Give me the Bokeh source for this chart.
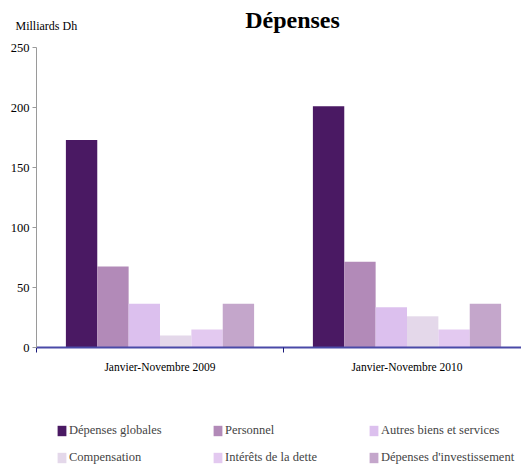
from bokeh.plotting import figure
from bokeh.models import Range1d, FixedTicker, Legend, LegendItem, Label, ColumnDataSource
from bokeh.embed import file_html
from bokeh.resources import INLINE

periods = ["Janvier-Novembre 2009", "Janvier-Novembre 2010"]
series = ["Dépenses globales", "Personnel", "Autres biens et services",
          "Compensation", "Intérêts de la dette", "Dépenses d'investissement"]
depenses_globales = [173, 201]
personnel = [67.5, 71.5]
autres_biens = [36.5, 33.5]
compensation = [10, 26]
interets = [15, 15]
investissement = [36.5, 36.5]
values = [depenses_globales, personnel, autres_biens, compensation, interets, investissement]
colors = ["#4a1963", "#b28ab8", "#dcc0ee", "#e4d8ea", "#e3c9f0", "#c4a6cb"]
y_ticks = [0, 50, 100, 150, 200, 250]

FONT = "Liberation Serif"
W, H = 521, 466
X0, Y0 = 36, 347          # page position of data origin
PX_X, PX_Y = 247, 1.2     # pixels per data unit

p = figure(width=W, height=H, output_backend="svg", toolbar_location=None,
           x_range=Range1d(-X0 / PX_X, (W - X0) / PX_X),
           y_range=Range1d(-(H - Y0) / PX_Y, Y0 / PX_Y),
           min_border=0, min_border_left=0, min_border_right=0,
           min_border_top=0, min_border_bottom=0)
p.outline_line_color = None
p.grid.visible = False

bw = 0.127
items = []
for k, (name, vals, col) in enumerate(zip(series, values, colors)):
    src = ColumnDataSource(dict(x=[i + 0.5 + (k - 2.5) * bw for i in range(len(periods))], top=vals))
    r = p.vbar(x="x", top="top", width=bw, source=src, fill_color=col, line_color=None)
    items.append(LegendItem(label=name, renderers=[r]))

# y axis
ya = p.yaxis[0]
ya.fixed_location = 0
ya.bounds = (0, 250)
ya.ticker = FixedTicker(ticks=y_ticks)
ya.axis_line_color = "#9a9a9a"
ya.major_tick_line_color = "#9a9a9a"
ya.major_tick_out = 4
ya.major_tick_in = 0
ya.minor_tick_line_color = None
ya.major_label_text_font = FONT
ya.major_label_text_font_size = "12.5px"
ya.major_label_text_color = "black"
ya.major_label_standoff = 3

# x axis
xa = p.xaxis[0]
xa.fixed_location = 0
xa.bounds = (0, (W - X0) / PX_X)
xa.ticker = FixedTicker(ticks=[0.5, 1.5], minor_ticks=[0, 1, 2])
xa.major_label_overrides = {0.5: periods[0], 1.5: periods[1]}
xa.axis_line_color = "#4a4aa8"
xa.axis_line_width = 2
xa.major_tick_line_color = None
xa.minor_tick_line_color = "#1a1a7a"
xa.minor_tick_out = 5
xa.minor_tick_in = 0
xa.major_label_text_font = FONT
xa.major_label_text_font_size = "11.5px"
xa.major_label_text_color = "black"
xa.major_label_standoff = 7

legend = Legend(items=items, orientation="horizontal", ncols=3, location=(56, 0),
                glyph_width=11, glyph_height=13, label_standoff=2, label_width=133,
                label_height=17, spacing=10, padding=0, margin=0,
                border_line_alpha=0, background_fill_alpha=0,
                label_text_font=FONT, label_text_font_size="12.5px")
p.add_layout(legend)

p.add_layout(Label(x=(292 - X0) / PX_X, y=(Y0 - 19) / PX_Y, text="Dépenses", text_align="center",
                   text_baseline="alphabetic", text_font=FONT, text_font_style="bold",
                   text_font_size="24px", text_color="black"))
p.add_layout(Label(x=(15 - X0) / PX_X, y=(Y0 - 25) / PX_Y, text="Milliards Dh", text_align="left",
                   text_baseline="alphabetic", text_font=FONT,
                   text_font_size="12px", text_color="black"))

open("out.html", "w").write(file_html(p, INLINE))
